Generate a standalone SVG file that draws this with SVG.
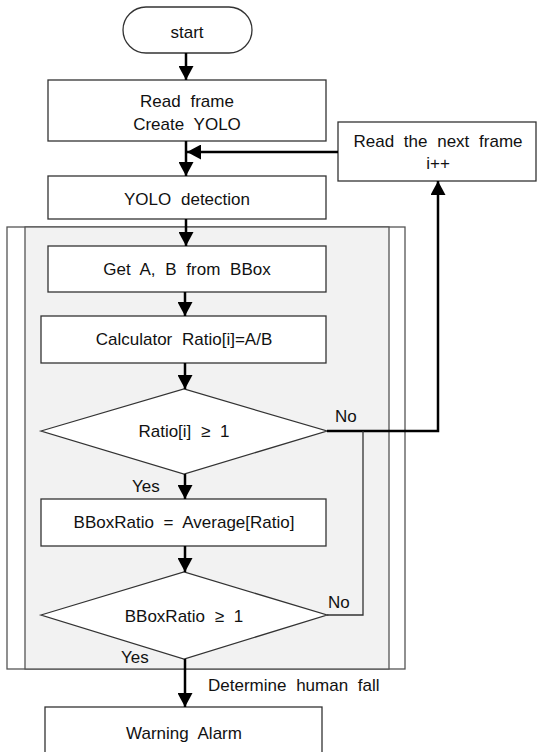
<svg xmlns="http://www.w3.org/2000/svg" width="537" height="752" viewBox="0 0 537 752">
<style>
.box{fill:#fff;stroke:#333;stroke-width:1.3}
.t{font-family:"Liberation Sans",Arial,sans-serif;font-size:17px;fill:#111;word-spacing:5px}
.c{text-anchor:middle}
.con{fill:none;stroke:#000;stroke-width:2.5}
.thin{fill:none;stroke:#333;stroke-width:1.3}
.frame{stroke:#555;stroke-width:1.3}
</style>
<defs>
<marker id="ah" viewBox="0 0 14 15" refX="14" refY="7.5" markerWidth="14" markerHeight="15" markerUnits="userSpaceOnUse" orient="auto">
<path d="M0,0 L14,7.5 L0,15 z" fill="#000"/>
</marker>
</defs>
<rect width="537" height="752" fill="#fff"/>
<g id="loop-container">
<rect class="frame" x="7" y="227" width="398" height="442" fill="#fff"/>
<rect class="frame" x="25" y="227" width="364" height="442" fill="#f2f2f2"/>
</g>
<g id="start">
<rect class="box" x="123" y="7" width="129" height="46" rx="23"/>
<text class="t c" x="187" y="38">start</text>
</g>
<g id="read-frame">
<rect class="box" x="48" y="80" width="278" height="61"/>
<text class="t c" x="187" y="107">Read frame</text>
<text class="t c" x="187" y="130">Create YOLO</text>
</g>
<g id="next-frame">
<rect class="box" x="338" y="122" width="198" height="59"/>
<text class="t c" x="438" y="147">Read the next frame</text>
<text class="t c" x="438" y="169">i++</text>
</g>
<g id="yolo-detection">
<rect class="box" x="48" y="176" width="278" height="43"/>
<text class="t c" x="187" y="205">YOLO detection</text>
</g>
<g id="get-ab">
<rect class="box" x="48" y="246" width="278" height="46"/>
<text class="t c" x="187" y="275">Get A, B from BBox</text>
</g>
<g id="calc-ratio">
<rect class="box" x="41" y="316" width="285" height="47"/>
<text class="t c" x="184" y="345">Calculator Ratio[i]=A/B</text>
</g>
<g id="ratio-decision">
<polygon class="box" points="41,431 184,389 327,431 184,474"/>
<text class="t c" x="184" y="437">Ratio[i] ≥ 1</text>
</g>
<g id="bbox-ratio">
<rect class="box" x="41" y="499" width="285" height="47"/>
<text class="t c" x="184" y="528">BBoxRatio = Average[Ratio]</text>
</g>
<g id="bbox-decision">
<polygon class="box" points="41,615 184,572 327,615 184,659"/>
<text class="t c" x="184" y="622">BBoxRatio ≥ 1</text>
</g>
<g id="warning-alarm">
<rect class="box" x="45" y="707" width="277" height="60"/>
<text class="t c" x="184" y="739">Warning Alarm</text>
</g>
<g id="connectors">
<line class="con" x1="186" y1="53" x2="186" y2="80" marker-end="url(#ah)"/>
<line class="con" x1="186" y1="141" x2="186" y2="176" marker-end="url(#ah)"/>
<line class="con" x1="338" y1="152" x2="187" y2="152" marker-end="url(#ah)"/>
<line class="con" x1="186" y1="219" x2="186" y2="246" marker-end="url(#ah)"/>
<line class="con" x1="185" y1="292" x2="185" y2="316" marker-end="url(#ah)"/>
<line class="con" x1="185" y1="363" x2="185" y2="389" marker-end="url(#ah)"/>
<line class="con" x1="185" y1="474" x2="185" y2="499" marker-end="url(#ah)"/>
<line class="con" x1="185" y1="546" x2="185" y2="572" marker-end="url(#ah)"/>
<line class="con" x1="185" y1="659" x2="185" y2="707" marker-end="url(#ah)"/>
<polyline class="con" points="327,431 438,431 438,181" marker-end="url(#ah)"/>
<polyline class="thin" points="327,615 363,615 363,431"/>
</g>
<g id="labels">
<text class="t" x="335" y="422">No</text>
<text class="t" x="328" y="608">No</text>
<text class="t" x="132" y="492">Yes</text>
<text class="t" x="121" y="663">Yes</text>
<text class="t" x="208" y="691">Determine human fall</text>
</g>
</svg>
